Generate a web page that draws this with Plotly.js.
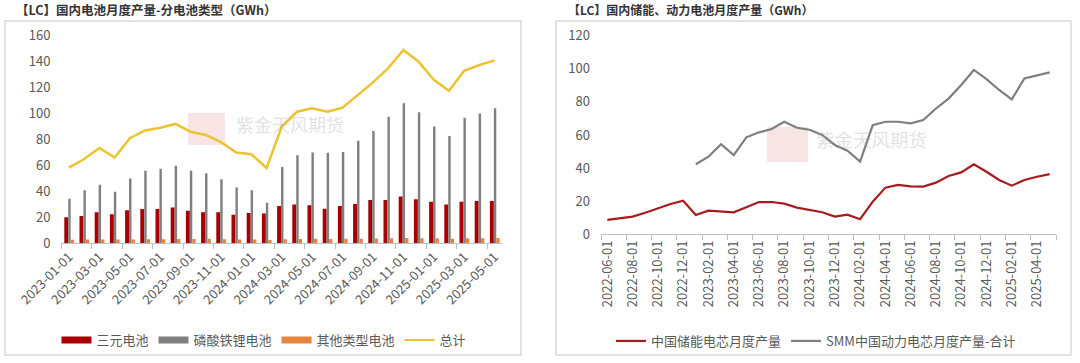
<!DOCTYPE html>
<html>
<head>
<meta charset="utf-8">
<script src="https://cdn.plot.ly/plotly-3.0.1.min.js"></script>
<style>
html,body{margin:0;padding:0;background:#fff;}
#chart{width:1080px;height:363px;}
</style>
</head>
<body>
<div id="chart"></div>
<script>
// ---------- Left chart data ----------
var months1 = ["2023-01-01","2023-02-01","2023-03-01","2023-04-01","2023-05-01","2023-06-01","2023-07-01","2023-08-01","2023-09-01","2023-10-01","2023-11-01","2023-12-01",
               "2024-01-01","2024-02-01","2024-03-01","2024-04-01","2024-05-01","2024-06-01","2024-07-01","2024-08-01","2024-09-01","2024-10-01","2024-11-01","2024-12-01",
               "2025-01-01","2025-02-01","2025-03-01","2025-04-01","2025-05-01"];
var ternary = [20,21,24,22.3,25.4,26.5,26.5,27.5,25,24,24,22,
               23.4,23,28.8,30,29.3,26.7,28.8,30.3,33.4,33.4,36,34,
               32,30,32,32.6,32.6];
var lfp = [34.4,40.8,45.2,39.8,50,56,57.5,59.8,56,54,49.3,43,
           40.8,31.3,58.8,67.8,70,69.8,70.4,79,86.5,97.6,107.9,101,
           90,82.7,96.8,100,104];
var otherType = [2.8,2.9,3,3,3,3.1,3.2,3.3,3.4,3.5,3.2,3,
                 2.9,2.6,3.2,3.4,3.5,3.4,3.5,3.6,3.7,3.8,4,3.9,
                 3.8,3.5,3.8,3.9,4];
var total = [58.3,65,73.5,66,81,87,89,92,86,83.5,78,70,
             68.6,58,90,101.4,104,101.4,104.5,114,124,135,149,140,
             126,117.6,133,137.4,141];
var names1 = ["三元电池","磷酸铁锂电池","其他类型电池","总计"];

// ---------- Right chart data ----------
var months2 = ["2022-06-01","2022-07-01","2022-08-01","2022-09-01","2022-10-01","2022-11-01","2022-12-01",
               "2023-01-01","2023-02-01","2023-03-01","2023-04-01","2023-05-01","2023-06-01","2023-07-01","2023-08-01","2023-09-01","2023-10-01","2023-11-01","2023-12-01",
               "2024-01-01","2024-02-01","2024-03-01","2024-04-01","2024-05-01","2024-06-01","2024-07-01","2024-08-01","2024-09-01","2024-10-01","2024-11-01","2024-12-01",
               "2025-01-01","2025-02-01","2025-03-01","2025-04-01","2025-05-01"];
var storage = [8.7,9.7,10.7,13,15.7,18.3,20.3,
               11.7,14.3,13.9,13.3,16.3,19.5,19.5,18.5,16.1,14.7,13.3,10.7,
               11.9,9.1,19.7,28.2,29.8,29,28.8,31.2,35.2,37.4,42.3,37.8,
               32.8,29.4,32.8,34.8,36.4];
var power = [null,null,null,null,null,null,null,
             42.3,46.9,54.4,47.9,58.6,61.6,63.6,68,64.4,63.2,60,54,
             50.5,43.9,66,68,68,67,69,76,82,90.2,99.3,93.8,
             87.2,81.5,94.2,96.2,97.8];
var names2 = ["中国储能电芯月度产量","SMM中国动力电芯月度产量-合计"];

var titles = ["【LC】国内电池月度产量-分电池类型（GWh）","【LC】国内储能、动力电池月度产量（GWh）"];
var watermark = "紫金天风期货";

// ---------- styles ----------
var FONT = "Noto Sans CJK SC, Noto Sans, sans-serif";
var C_RED = "#A80000", C_GREY = "#808080", C_ORANGE = "#E5853F", C_YELLOW = "#EDC233";
var C_LRED = "#A61C1C", C_LGREY = "#7F7F7F";
var W = 1080, H = 363;
function px(x){return x/W;}
function py(y){return (H-y)/H;}

var traces = [
  {type:"bar", x:months1, y:ternary, name:names1[0], marker:{color:C_RED}, offset:-0.31, width:0.26, xaxis:"x", yaxis:"y", showlegend:false},
  {type:"bar", x:months1, y:lfp, name:names1[1], marker:{color:C_GREY}, offset:-0.05, width:0.16, xaxis:"x", yaxis:"y", showlegend:false},
  {type:"bar", x:months1, y:otherType, name:names1[2], marker:{color:C_ORANGE}, offset:0.11, width:0.22, xaxis:"x", yaxis:"y", showlegend:false},
  {type:"scatter", mode:"lines", x:months1, y:total, name:names1[3], line:{color:C_YELLOW, width:2.5}, xaxis:"x", yaxis:"y", showlegend:false},
  // legend proxies (left)
  {type:"scatter", mode:"lines", x:[null], y:[null], name:names1[0], line:{color:C_RED, width:7}, xaxis:"x", yaxis:"y", legend:"legend"},
  {type:"scatter", mode:"lines", x:[null], y:[null], name:names1[1], line:{color:C_GREY, width:7}, xaxis:"x", yaxis:"y", legend:"legend"},
  {type:"scatter", mode:"lines", x:[null], y:[null], name:names1[2], line:{color:C_ORANGE, width:7}, xaxis:"x", yaxis:"y", legend:"legend"},
  {type:"scatter", mode:"lines", x:[null], y:[null], name:names1[3], line:{color:C_YELLOW, width:2}, xaxis:"x", yaxis:"y", legend:"legend"},
  // right
  {type:"scatter", mode:"lines", x:months2, y:storage, name:names2[0], line:{color:C_LRED, width:2.2}, xaxis:"x2", yaxis:"y2", legend:"legend2"},
  {type:"scatter", mode:"lines", x:months2, y:power, name:names2[1], line:{color:C_LGREY, width:2.2}, xaxis:"x2", yaxis:"y2", legend:"legend2", connectgaps:false}
];

var tickFont = {family:FONT, size:13, color:"#595959"};
var xCommon = {type:"category", showgrid:false, zeroline:false, showline:true, linecolor:"#BFBFBF", linewidth:1,
               ticks:"outside", ticklen:5, tickcolor:"#BFBFBF", tickson:"boundaries", tickmode:"linear", tick0:0, dtick:2,
               tickfont:tickFont, fixedrange:true};
var yCommon = {showgrid:false, zeroline:false, showline:false, ticks:"", tickfont:tickFont, tickmode:"linear", tick0:0, dtick:20,
               ticklabelstandoff:10, fixedrange:true};

var layout = {
  width:W, height:H, autosize:false,
  margin:{l:0,r:0,t:0,b:0},
  paper_bgcolor:"#fff", plot_bgcolor:"rgba(0,0,0,0)",
  font:{family:FONT, color:"#595959"},
  barmode:"overlay",
  xaxis:Object.assign({}, xCommon, {domain:[px(61.4), px(502.2)], anchor:"y", range:[-0.5,28.5], categoryarray:months1, categoryorder:"array", tickangle:-45}),
  yaxis:Object.assign({}, yCommon, {domain:[py(243.3), py(35.7)], anchor:"x", range:[0,160]}),
  xaxis2:Object.assign({}, xCommon, {domain:[px(601), px(1056)], anchor:"y2", range:[-0.5,35.5], categoryarray:months2, categoryorder:"array", tickangle:-90}),
  yaxis2:Object.assign({}, yCommon, {domain:[py(234.3), py(35.7)], anchor:"x2", range:[0,120]}),
  legend:{orientation:"h", x:px(264), y:py(340), xanchor:"center", yanchor:"middle", font:{family:FONT, size:13, color:"#595959"}, bgcolor:"rgba(0,0,0,0)"},
  legend2:{orientation:"h", x:px(816), y:py(341), xanchor:"center", yanchor:"middle", font:{family:FONT, size:13, color:"#595959"}, bgcolor:"rgba(0,0,0,0)"},
  shapes:[
    {type:"rect", xref:"paper", yref:"paper", x0:px(5), x1:px(521), y0:py(355), y1:py(21), line:{color:"#D9D9D9", width:1.5}, layer:"below"},
    {type:"rect", xref:"paper", yref:"paper", x0:px(556), x1:px(1071), y0:py(355), y1:py(21), line:{color:"#D9D9D9", width:1.5}, layer:"below"},
    {type:"rect", xref:"paper", yref:"paper", x0:px(188), x1:px(225), y0:py(145), y1:py(113), line:{width:0}, fillcolor:"rgba(215,120,120,0.20)", layer:"below"},
    {type:"rect", xref:"paper", yref:"paper", x0:px(767), x1:px(808), y0:py(162), y1:py(127), line:{width:0}, fillcolor:"rgba(215,120,120,0.20)", layer:"below"}
  ],
  annotations:[
    {xref:"paper", yref:"paper", x:px(14), y:py(10), xanchor:"left", yanchor:"middle", showarrow:false, text:"<b>"+titles[0]+"</b>", font:{family:FONT, size:12.5, color:"#333333"}},
    {xref:"paper", yref:"paper", x:px(566), y:py(10), xanchor:"left", yanchor:"middle", showarrow:false, text:"<b>"+titles[1]+"</b>", font:{family:FONT, size:12, color:"#333333"}},
    {xref:"paper", yref:"paper", x:px(234), y:py(124), xanchor:"left", yanchor:"middle", showarrow:false, text:watermark, font:{family:FONT, size:18, color:"rgba(170,170,170,0.35)"}},
    {xref:"paper", yref:"paper", x:px(814), y:py(139), xanchor:"left", yanchor:"middle", showarrow:false, text:watermark, font:{family:FONT, size:18.5, color:"rgba(170,170,170,0.35)"}}
  ]
};

Plotly.newPlot("chart", traces, layout, {staticPlot:true, displayModeBar:false});
</script>
</body>
</html>
